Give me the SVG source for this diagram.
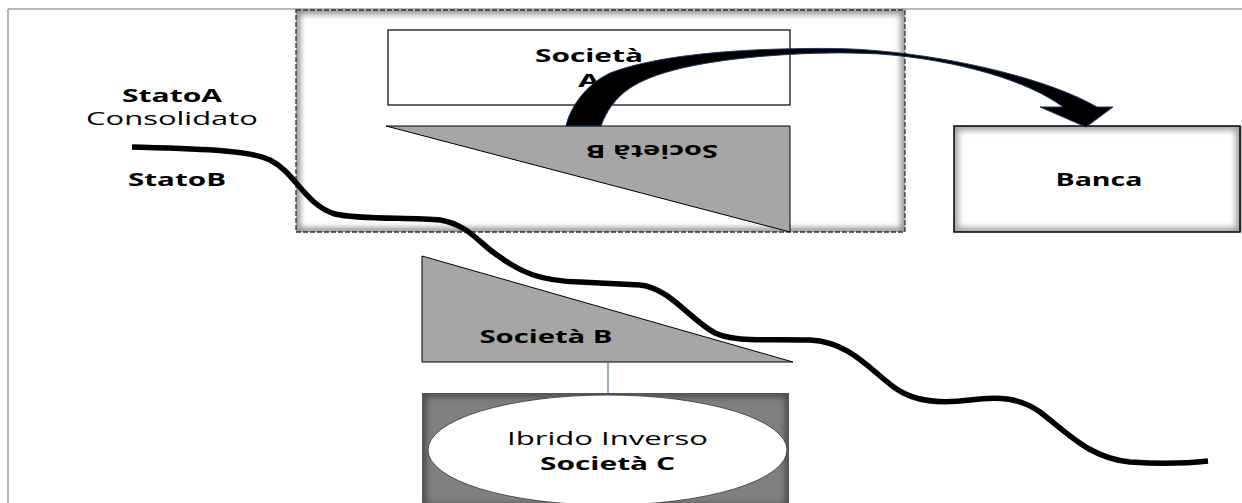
<svg xmlns="http://www.w3.org/2000/svg" width="1242" height="503" viewBox="0 0 1242 503">
<style>
.b{font-family:"Open Sans","DejaVu Sans",sans-serif;font-weight:bold;font-size:18px;fill:#000}
.r{font-family:"Open Sans","DejaVu Sans",sans-serif;font-weight:normal;font-size:18px;fill:#000}
.tri{fill:#a6a6a6;stroke:#000;stroke-width:1}
.glow{fill:none;filter:url(#blur)}
</style>
<defs>
<filter id="blur" x="-5%" y="-5%" width="110%" height="110%"><feGaussianBlur stdDeviation="3"/></filter>
<clipPath id="cDash"><rect x="296" y="10" width="609" height="222"/></clipPath>
<clipPath id="cBanca"><rect x="954" y="126" width="288" height="106"/></clipPath>
<clipPath id="cIbr"><rect x="422" y="393" width="367" height="110"/></clipPath>
</defs>
<rect width="1242" height="503" fill="#fff"/>
<g id="page-frame" stroke="#a0a0a0" stroke-width="1.5" fill="none">
<line x1="8" y1="9" x2="1242" y2="9"/>
<line x1="8" y1="9" x2="8" y2="503"/>
</g>
<g id="stato-a-box">
<rect x="296" y="10" width="609" height="222" fill="#fff"/>
<rect class="glow" x="296" y="10" width="609" height="222" stroke="#8a8a8a" stroke-width="8" clip-path="url(#cDash)"/>
<rect x="296" y="10" width="609" height="222" fill="none" stroke="#333" stroke-width="1.3" stroke-dasharray="5 2"/>
</g>
<g id="labels-left">
<text class="b" x="172" y="102" text-anchor="middle" textLength="100" lengthAdjust="spacingAndGlyphs">StatoA</text>
<text class="r" x="172" y="125" text-anchor="middle" textLength="172" lengthAdjust="spacingAndGlyphs">Consolidato</text>
<text class="b" x="177" y="186" text-anchor="middle" textLength="98" lengthAdjust="spacingAndGlyphs">StatoB</text>
</g>
<g id="societa-a">
<rect x="388" y="30" width="402" height="75" fill="#fff" stroke="#000" stroke-width="1.2"/>
<text class="b" x="589" y="62" text-anchor="middle" textLength="108" lengthAdjust="spacingAndGlyphs">Società</text>
<text class="b" x="589" y="87" text-anchor="middle" textLength="22" lengthAdjust="spacingAndGlyphs">A</text>
</g>
<g id="societa-b-upper">
<polygon class="tri" points="386,126 790,126 790,232"/>
<text class="b" transform="translate(652,145) rotate(180)" text-anchor="middle" textLength="132" lengthAdjust="spacingAndGlyphs">Società B</text>
</g>
<g id="banca">
<rect x="954" y="126" width="300" height="106" fill="#fff"/>
<rect class="glow" x="954" y="126" width="286" height="106" stroke="#999" stroke-width="8" clip-path="url(#cBanca)"/>
<rect x="954" y="126" width="286" height="106" fill="none" stroke="#000" stroke-width="1.5"/>
<text class="b" x="1099" y="186" text-anchor="middle" textLength="87" lengthAdjust="spacingAndGlyphs">Banca</text>
</g>
<g id="societa-b-lower">
<polygon class="tri" points="422,256 422,362 793,362"/>
<text class="b" x="546" y="343" text-anchor="middle" textLength="133" lengthAdjust="spacingAndGlyphs">Società B</text>
</g>
<g id="societa-c">
<rect x="422" y="393" width="367" height="115" fill="#808080"/>
<rect class="glow" x="422" y="393" width="367" height="115" stroke="#4a4a4a" stroke-width="8" clip-path="url(#cIbr)"/>
<ellipse cx="607.5" cy="450" rx="179.5" ry="55" fill="#fff" stroke="#333" stroke-width="0.8"/>
<text class="r" x="607.5" y="445" text-anchor="middle" textLength="201" lengthAdjust="spacingAndGlyphs">Ibrido Inverso</text>
<text class="b" x="607.5" y="470" text-anchor="middle" textLength="135" lengthAdjust="spacingAndGlyphs">Società C</text>
</g>
<g id="connectors">
<line x1="608" y1="362" x2="608" y2="393" stroke="#6a7fa8" stroke-width="1.3"/>
<path d="M566,126 C570,108 585,85 610,73 C650,58 710,51 780,49 C820,48 850,48 880,51 C960,58 1050,80 1097,107 L1113,107 L1086,127 L1040,107 L1063,107 C1030,82 960,60 880,54 C840,52 810,53 780,55 C720,59 660,68 630,88 C615,98 606,112 601,126 Z" fill="#000" stroke="#1f3864" stroke-width="1" stroke-linejoin="miter"/>
</g>
<g id="state-border">
<path d="M132,147 C200,149 250,150 270,160 C295,172 305,205 335,214 C360,220 410,217 440,220 C470,225 480,245 500,257 C520,272 540,281 580,282 L640,285 C670,288 690,320 715,333 C735,342 760,339 810,340 C850,342 870,370 895,388 C915,402 940,404 970,400 C1000,396 1020,398 1040,412 C1070,435 1090,458 1130,462 C1160,464 1190,463 1208,461" fill="none" stroke="#000" stroke-width="5.5" stroke-linecap="butt" stroke-linejoin="round"/>
</g>
</svg>
